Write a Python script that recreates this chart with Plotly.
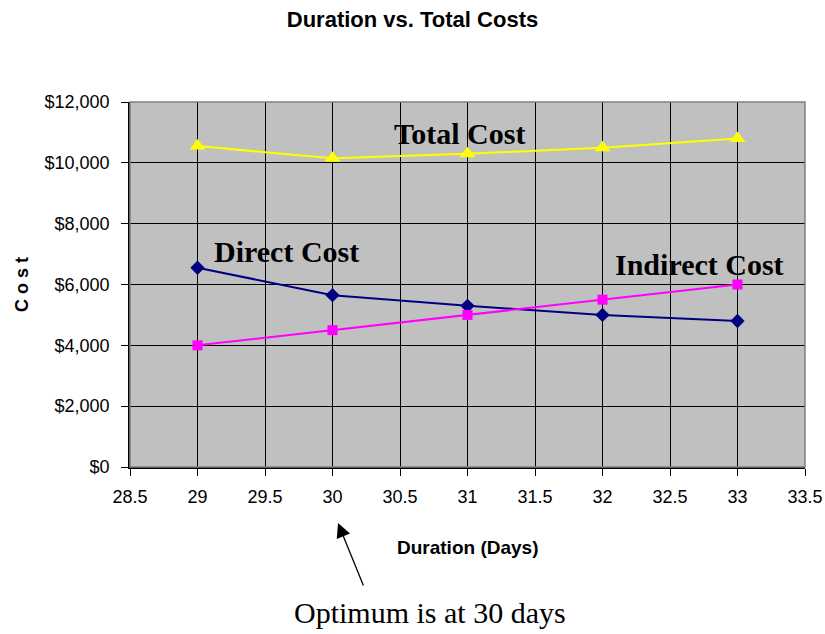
import plotly.graph_objects as go

days = [29, 30, 31, 32, 33]
total_cost = [10550, 10150, 10300, 10500, 10800]
direct_cost = [6550, 5650, 5300, 5000, 4800]
indirect_cost = [4000, 4500, 5000, 5500, 6000]

x_ticks = [28.5, 29, 29.5, 30, 30.5, 31, 31.5, 32, 32.5, 33, 33.5]
y_ticks = [0, 2000, 4000, 6000, 8000, 10000, 12000]
y_labels = ["$0", "$2,000", "$4,000", "$6,000", "$8,000", "$10,000", "$12,000"]

sans = "Liberation Sans, Arial, sans-serif"
serif = "Liberation Serif, Times New Roman, serif"

W, H = 825, 634
L, R, T, B = 130, 20, 102, 167
PW, PH = W - L - R, H - T - B


def px(x):
    return (x - L) / PW


def py(y):
    return (H - B - y) / PH


fig = go.Figure()
fig.add_trace(go.Scatter(x=days, y=total_cost, mode="lines+markers",
                         line=dict(color="#FFFF00", width=2),
                         marker=dict(symbol="triangle-up", size=14, color="#FFFF00"),
                         name="Total Cost"))
fig.add_trace(go.Scatter(x=days, y=direct_cost, mode="lines+markers",
                         line=dict(color="#000080", width=2),
                         marker=dict(symbol="diamond", size=11, color="#000080"),
                         name="Direct Cost"))
fig.add_trace(go.Scatter(x=days, y=indirect_cost, mode="lines+markers",
                         line=dict(color="#FF00FF", width=2),
                         marker=dict(symbol="square", size=10, color="#FF00FF"),
                         name="Indirect Cost"))

fig.update_layout(
    width=W, height=H,
    margin=dict(l=L, r=R, t=T, b=B),
    paper_bgcolor="white", plot_bgcolor="#C0C0C0",
    showlegend=False,
    title=dict(text="<b>Duration vs. Total Costs</b>", x=0.5, xanchor="center",
               y=1 - 19/H, yanchor="middle",
               font=dict(family=sans, size=22, color="black")),
    font=dict(family=sans, size=18, color="black"),
)
fig.update_xaxes(range=[28.5, 33.5], tickvals=x_ticks, ticktext=[str(v) for v in x_ticks],
                 showgrid=True, gridcolor="black", gridwidth=1,
                 ticks="outside", ticklen=7, tickcolor="black",
                 showline=True, linecolor="black", linewidth=1.5, mirror=False,
                 zeroline=False, automargin=False, ticklabelstandoff=6,
                 tickfont=dict(family=sans, size=18))
fig.update_yaxes(range=[0, 12000], tickvals=y_ticks, ticktext=y_labels,
                 showgrid=True, gridcolor="black", gridwidth=1,
                 ticks="outside", ticklen=7, tickcolor="black",
                 showline=True, linecolor="black", linewidth=1.5,
                 zeroline=False, automargin=False, ticklabelstandoff=8,
                 tickfont=dict(family=sans, size=18))

# gray border on top/right
fig.add_shape(type="rect", xref="paper", yref="paper", x0=0, x1=1, y0=0, y1=1,
              line=dict(color="#808080", width=1.5), layer="above")

# axis titles
fig.add_annotation(xref="paper", yref="paper", x=px(467), y=py(547),
                   xanchor="center", yanchor="middle",
                   text="<b>Duration (Days)</b>", showarrow=False,
                   font=dict(family=sans, size=19, color="black"))
fig.add_annotation(xref="paper", yref="paper", x=px(22), y=py(285),
                   xanchor="center", yanchor="middle", textangle=-90,
                   text="<b>C o s t</b>", showarrow=False,
                   font=dict(family=sans, size=18, color="black"))

fig.add_annotation(x=31, y=10300, text="<b>Total Cost</b>", showarrow=False,
                   yshift=20, xshift=-8, font=dict(family=serif, size=30, color="black"))
fig.add_annotation(x=29, y=6550, text="<b>Direct Cost</b>", showarrow=False,
                   xanchor="left", xshift=14, yshift=16, font=dict(family=serif, size=30, color="black"))
fig.add_annotation(x=33, y=6000, text="<b>Indirect Cost</b>", showarrow=False,
                   xshift=-38, yshift=20, font=dict(family=serif, size=30, color="black"))

# arrow and caption
fig.add_annotation(xref="paper", yref="paper",
                   x=px(338), y=py(523),
                   ax=26, ay=64, axref="pixel", ayref="pixel",
                   text="", showarrow=True, arrowhead=2, arrowsize=2.2, arrowwidth=1.3,
                   arrowcolor="black")
fig.add_annotation(xref="paper", yref="paper", x=px(430), y=py(612),
                   xanchor="center", yanchor="middle",
                   text="Optimum is at 30 days", showarrow=False,
                   font=dict(family=serif, size=30, color="black"))

fig.write_html("out.html", config={"displayModeBar": False},
               post_script="document.body.style.margin='0';document.body.style.overflow='hidden';")
